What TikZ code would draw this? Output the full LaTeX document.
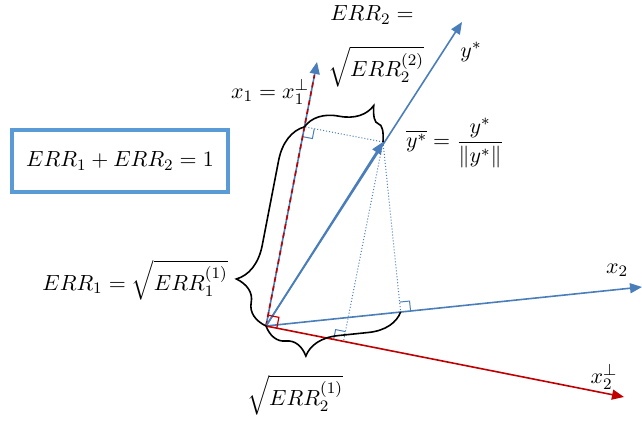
\documentclass[tikz,border=0pt]{standalone}
\usepackage{amsmath}
\usepackage{amssymb}
\usepackage{xcolor}
\usepackage{tikz}
\usetikzlibrary{arrows.meta,positioning,calc,decorations.pathreplacing}

\definecolor{axblue}{HTML}{4A7EBB}
\definecolor{boxblue}{HTML}{5B9BD5}
\definecolor{axred}{HTML}{C00000}

\begin{document}
\begin{tikzpicture}[
    x=0.5pt, y=-0.5pt,
    >={Triangle[length=6pt,width=5pt]},
    font=\fontsize{11}{13}\selectfont,
    axis/.style={->, line width=0.8pt, draw=axblue},
    perp/.style={->, line width=0.8pt, draw=axred},
    proj/.style={draw=axblue, densely dotted, line width=0.5pt},
    rang/.style={draw=axblue, line width=0.5pt},
    brc/.style={decorate, decoration={brace, amplitude=#1}, line width=0.8pt},
    brc/.default=17pt
]
    \useasboundingbox (0,0) rectangle (642,426);

    % origin, axis ends and the unit vector
    \coordinate (O)   at (266,326);
    \coordinate (X1)  at (317,62);
    \coordinate (X2)  at (642,287);
    \coordinate (X2p) at (624,397);
    \coordinate (Ys)  at (462,22);
    \coordinate (Yb)  at (383,142);

    % feet of the projections
    \coordinate (F1) at ($(O)!(Yb)!(X1)$);
    \coordinate (F2) at ($(O)!(Yb)!(X2)$);
    \coordinate (F3) at ($(O)!(Yb)!(X2p)$);

    % projections
    \draw[proj] (Yb) -- (F1);
    \draw[proj] (Yb) -- (F2);
    \draw[proj] (Yb) -- (F3);
    \foreach \f/\a/\b in {F1/Yb/O, F2/Yb/X2, F3/Yb/O}
        \draw[rang] ($(\f)!5pt!(\a)$) -- ($(\f)!5pt!(\a) + (\f)!5pt!(\b) - (\f)$)
            -- ($(\f)!5pt!(\b)$);

    % axes
    \draw[axis] (O) -- (X1);
    \draw[axred, line width=0.8pt, dash pattern=on 2.5pt off 2pt]
        (O) -- ($(O)!0.95!(X1)$);
    \draw[axis] (O) -- (Ys);
    \draw[axis] (O) -- (Yb);
    \draw[axis] (O) -- (X2);
    \draw[perp] (O) -- (X2p);
    \draw[axred, line width=0.6pt] ($(O)!5.5pt!(X1)$)
        -- ($(O)!5.5pt!(X1) + (O)!5.5pt!(X2p) - (O)$) -- ($(O)!5.5pt!(X2p)$);

    % braces
    \draw[brc=19pt, decoration={aspect=0.2}] (O) -- (F1);
    \draw[brc, decoration={aspect=0.8}] (F1) -- (Yb);
    \draw[brc, decoration={aspect=0.73}] (F2) -- (O);

    % labels
    \node (lx1)  at (270,92)  {$x_1 = x_1^{\perp}$};
    \node (lys)  at (471,52)  {$y^*$};
    \node (lyb)  at (455,143) {$\overline{y^*} = \dfrac{y^*}{\lVert y^* \rVert}$};
    \node (lx2)  at (617,270) {$x_2$};
    \node (lx2p) at (604,377) {$x_2^{\perp}$};
    \node (lerr1) at (135,280) {$ERR_1 = \sqrt{ERR_1^{(1)}}$};
    \node (lerr2) at (372,15)  {$ERR_2 =$};
    \node[below=4pt of lerr2, xshift=2pt] (lerr2r) {$\sqrt{ERR_2^{(2)}}$};
    \node (lerr21) at (295,395) {$\sqrt{ERR_2^{(1)}}$};
    \node[draw=boxblue, line width=2pt, minimum width=108pt,
          minimum height=31pt] (sum) at (120,161) {$ERR_1 + ERR_2 = 1$};
\end{tikzpicture}
\end{document}
